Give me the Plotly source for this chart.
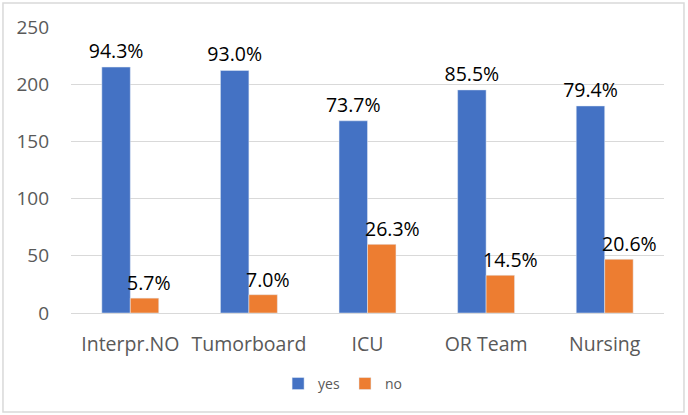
import plotly.graph_objects as go

categories = ["Interpr.NO", "Tumorboard", "ICU", "OR Team", "Nursing"]
yes_values = [215, 212, 168, 195, 181]
no_values = [13, 16, 60, 33, 47]
yes_labels = ["94.3%", "93.0%", "73.7%", "85.5%", "79.4%"]
no_labels = ["5.7%", "7.0%", "26.3%", "14.5%", "20.6%"]
y_ticks = [0, 50, 100, 150, 200, 250]

FONT = "Open Sans"
BLUE = "#4472C4"
ORANGE = "#ED7D31"
LABEL_SIZE = 19.5

fig = go.Figure()
fig.add_trace(go.Bar(
    x=categories, y=yes_values, name="yes", marker_color=BLUE,
    text=yes_labels, textposition="outside", cliponaxis=False, constraintext="none",
    textfont=dict(family=FONT, size=LABEL_SIZE, color="black"),
))
fig.add_trace(go.Bar(
    x=categories, y=no_values, name="no", marker_color=ORANGE,
))

for c, v, t in zip(categories, no_values, no_labels):
    fig.add_annotation(
        x=c, y=v, xref="x", yref="y", text=t, showarrow=False,
        xanchor="left", yanchor="bottom", xshift=-5, yshift=0,
        font=dict(family=FONT, size=LABEL_SIZE, color="black"),
    )

fig.add_shape(
    type="rect", xref="paper", yref="paper",
    x0=-0.1147, x1=1.0337, y0=-0.346, y1=1.0839,
    line=dict(color="#D9D9D9", width=1.5), fillcolor="rgba(0,0,0,0)", layer="below",
)

fig.update_layout(
    width=688, height=415,
    margin=dict(l=71, r=24, t=27, b=102),
    paper_bgcolor="white", plot_bgcolor="white",
    barmode="group", bargap=0.52, bargroupgap=0,
    font=dict(family=FONT, color="#595959"),
    showlegend=True,
    legend=dict(orientation="h", x=0.458, xanchor="center", y=-0.248, yanchor="middle",
                font=dict(family=FONT, size=14, color="#595959"), itemwidth=30,
                traceorder="normal"),
    xaxis=dict(tickfont=dict(family=FONT, size=19.5, color="#595959"), showline=False,
               ticks="", ticklabelstandoff=17),
    yaxis=dict(range=[0, 250], tickvals=y_ticks, showgrid=True, gridcolor="#D9D9D9",
               gridwidth=1, zeroline=True, zerolinecolor="#D9D9D9", zerolinewidth=1,
               tickfont=dict(family=FONT, size=19, color="#595959"), ticks="",
               ticklabelstandoff=21),
)

fig.write_html("out.html", config={"displayModeBar": False},
               post_script="document.body.style.margin='0';")
